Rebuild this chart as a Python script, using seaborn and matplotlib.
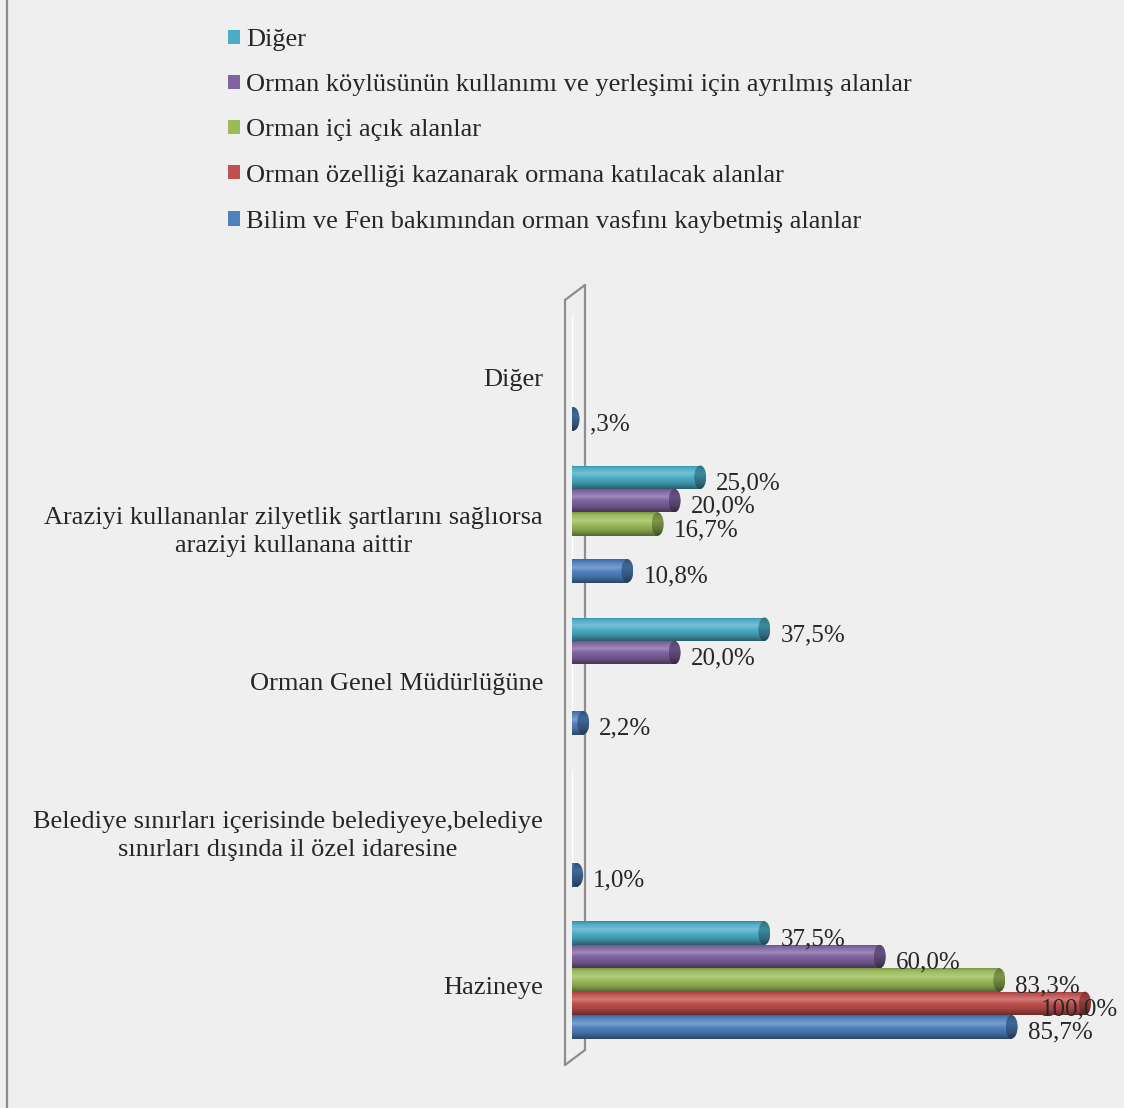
import numpy as np
import pandas as pd
import matplotlib
matplotlib.use("Agg")
import matplotlib.pyplot as plt
import matplotlib.transforms as mtransforms
from matplotlib.patches import Ellipse, Patch
from matplotlib.colors import to_rgb
import seaborn as sns

# categories, top to bottom as in the chart
kategoriler = [
    "Diğer",
    "Araziyi kullananlar zilyetlik şartlarını sağlıorsa\naraziyi kullanana aittir",
    "Orman Genel Müdürlüğüne",
    "Belediye sınırları içerisinde belediyeye,belediye\nsınırları dışında il özel idaresine",
    "Hazineye",
]
seriler = [
    "Diğer",
    "Orman köylüsünün kullanımı ve yerleşimi için ayrılmış alanlar",
    "Orman içi açık alanlar",
    "Orman özelliği kazanarak ormana katılacak alanlar",
    "Bilim ve Fen bakımından orman vasfını kaybetmiş alanlar",
]
# values (%) per series, in the order of kategoriler
diger = [0, 25.0, 37.5, 0, 37.5]
koylu = [0, 20.0, 20.0, 0, 60.0]
acik_alan = [0, 16.7, 0, 0, 83.3]
ozellik = [0, 0, 0, 0, 100.0]
bilim_fen = [0.3, 10.8, 2.2, 1.0, 85.7]
renkler = ["#4BACC6", "#8064A2", "#9BBB59", "#C0504D", "#4F81BD"]

degerler = [diger, koylu, acik_alan, ozellik, bilim_fen]
rows = []
for seri, vals in zip(seriler, degerler):
    for kat, v in zip(kategoriler, vals):
        rows.append({"kategori": kat, "seri": seri, "oran": v})
df = pd.DataFrame(rows)

sns.set_style("white")
plt.rcParams["font.family"] = ["Liberation Serif", "DejaVu Serif"]

W, H = 1124, 1108
fig = plt.figure(figsize=(W / 100, H / 100), dpi=100)
fig.patch.set_facecolor("#EFEFEF")

px_per_unit = 5.13
ax_left = 572
ax = fig.add_axes([ax_left / W, 1 - 1056 / H, (W - ax_left) / W, (1056 - 300.6) / H])
ax.set_facecolor("none")

sns.barplot(data=df, y="kategori", x="oran", hue="seri", order=kategoriler,
            hue_order=seriler, palette=renkler, orient="h", width=0.77,
            dodge=True, legend=False, ax=ax, zorder=2)

xmax = (W - ax_left) / px_per_unit
ax.set_xlim(0, xmax)
ax.set_ylim(4.5, -0.47)
for s in ax.spines.values():
    s.set_visible(False)
ax.set_xticks([])
ax.set_yticks([])
ax.set_xlabel("")
ax.set_ylabel("")


def gradient(color, dark=1.0, n=80):
    base = np.array(to_rgb(color))
    t = np.linspace(0, 1, n)
    prof = np.interp(t, [0, 0.12, 0.35, 0.75, 1], [0.8, 1.0, 1.12, 0.85, 0.55]) * dark
    out = np.empty((n, 3))
    for i, p in enumerate(prof):
        if p > 1:
            out[i] = base + (1 - base) * (p - 1) * 2
        else:
            out[i] = base * p
    return np.clip(out, 0, 1)[:, None, :]


cap_w = 12 / px_per_unit
lbl_off = mtransforms.ScaledTranslation(0, -6 / 100, fig.dpi_scale_trans)
etiketler = []
for cont, color in zip(ax.containers, renkler):
    for bar in cont:
        v = bar.get_width()
        if v <= 0:
            continue
        bar.set_alpha(0)
        y0 = bar.get_y()
        h = bar.get_height()
        yc = y0 + h / 2
        body = gradient(color)
        capg = gradient(color, dark=0.72)
        # left rounded end
        le = Ellipse((0, yc), cap_w, h, facecolor="none", edgecolor="none")
        ax.add_patch(le)
        im = ax.imshow(body, extent=(-cap_w / 2, cap_w / 2, y0 + h, y0),
                       aspect="auto", origin="upper", zorder=3)
        im.set_clip_path(le)
        # body
        im = ax.imshow(body, extent=(0, v, y0 + h, y0), aspect="auto",
                       origin="upper", zorder=3)
        im.set_clip_path(bar)
        # right cap
        re = Ellipse((v, yc), cap_w, h, facecolor="none", edgecolor="none")
        ax.add_patch(re)
        im = ax.imshow(capg, extent=(v - cap_w / 2, v + cap_w / 2, y0 + h, y0),
                       aspect="auto", origin="upper", zorder=4)
        im.set_clip_path(re)
        # value label
        txt = f"{v:.1f}".replace(".", ",")
        if txt.startswith("0"):
            txt = txt[1:]
        t = ax.text(v + cap_w / 2 + 10 / px_per_unit, yc, txt + "%", fontsize=18,
                    va="center", ha="left", transform=ax.transData + lbl_off,
                    clip_on=False, zorder=6)
        etiketler.append(t)

ax.set_xlim(0, xmax)
ax.set_ylim(4.5, -0.47)

# category labels
kat_trans = mtransforms.blended_transform_factory(ax.transAxes, ax.transData) + \
    mtransforms.ScaledTranslation(-29 / 100, -8 / 100, fig.dpi_scale_trans)
for i, kat in enumerate(kategoriler):
    ax.text(0, i, kat, transform=kat_trans, ha="right", va="center",
            multialignment="center", fontsize=19, linespacing=1.3, clip_on=False)

# back wall of the 3D plot area
wall = [((565, 300), (565, 1065)), ((585, 285), (585, 1050)),
        ((565, 300), (585, 285)), ((565, 1065), (585, 1050))]
for (xa, ya), (xb, yb) in wall:
    ax.plot([xa / W, xb / W], [1 - ya / H, 1 - yb / H], color="#8E8E8E",
            lw=1.6, transform=fig.transFigure, clip_on=False, zorder=1)
# left frame edge
fig.add_artist(plt.Line2D([7 / W, 7 / W], [0, 1], color="#8C8C8C", lw=1.6))

handles = [Patch(facecolor=c, edgecolor="none") for c in renkler]
fig.legend(handles, seriler, loc="upper left", bbox_to_anchor=(228 / W, 1 - 29 / H),
           frameon=False, fontsize=19, handlelength=0.45, handleheight=0.45,
           handletextpad=0.25, labelspacing=0.88, borderpad=0, borderaxespad=0)

# keep the labels inside the figure
fig.canvas.draw()
right_px = 1118
for t in etiketler:
    bb = t.get_window_extent()
    if bb.x1 > right_px:
        t.set_ha("right")
        t.set_x(ax.transData.inverted().transform((right_px, 0))[0])

fig.savefig("out.png", dpi=100, facecolor=fig.get_facecolor())
